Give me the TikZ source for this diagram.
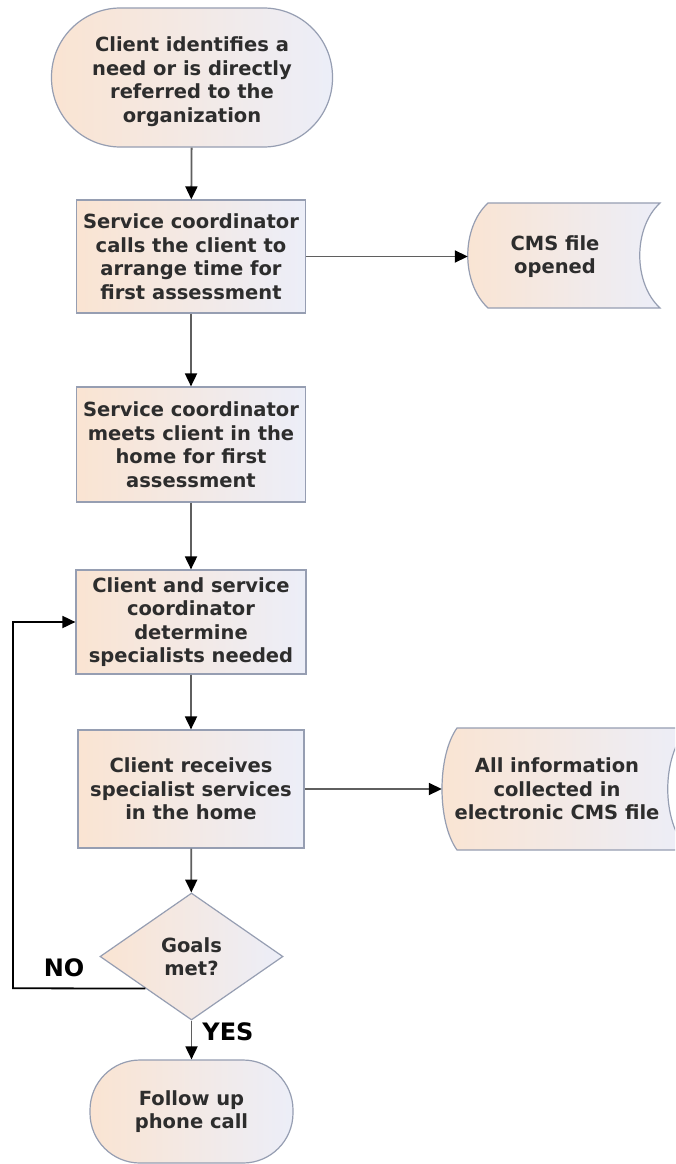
\documentclass[tikz,border=0pt]{standalone}
\usepackage{fontspec}
\setmainfont{DejaVu Sans}
\usetikzlibrary{shapes.geometric,arrows.meta}
\definecolor{peach}{RGB}{250,228,210}
\definecolor{lav}{RGB}{236,238,248}
\definecolor{edgec}{RGB}{150,158,178}
\definecolor{txt}{RGB}{45,45,45}
\definecolor{conn}{RGB}{95,95,95}
\begin{document}
\begin{tikzpicture}[x=1pt,y=-1pt,
  fillbox/.style={draw=edgec, line width=1.2pt, left color=peach, right color=lav},
  boxtext/.style={text=txt, font=\bfseries\fontsize{19.5}{23.5}\selectfont, align=center, inner sep=0pt},
  procbox/.style={fillbox, boxtext, rectangle},
  termbox/.style={fillbox, boxtext, rectangle, rounded corners=#1},
  decision/.style={fillbox, boxtext, diamond, minimum width=183pt, minimum height=127pt},
  doctext/.style={boxtext, minimum height=100pt},
  flow/.style={draw=conn, line width=1.8pt, -{Triangle[length=13pt,width=12pt,color=black]}},
  loopline/.style={draw=black, line width=1.8pt, -{Triangle[length=13pt,width=12pt,color=black]}},
  answer/.style={font=\bfseries\fontsize{24}{28}\selectfont, text=black, inner sep=0pt}
]
\useasboundingbox (0,0) rectangle (675,1164);
\clip (0,0) rectangle (675,1164);
\fill[white] (0,0) rectangle (675,1164);

% main column
\node[termbox=69pt, minimum width=281pt, minimum height=139pt] (start) at (192,77.5)
  {\rule{0pt}{23pt}Client identifies a\\need or is directly\\referred to the\\organization};
\node[procbox, minimum width=229pt, minimum height=113pt] (box1) at (191,256.5)
  {Service coordinator\\calls the client to\\arrange time for\\first assessment};
\node[procbox, minimum width=229pt, minimum height=115pt] (box2) at (191,444.5)
  {Service coordinator\\meets client in the\\home for first\\assessment};
\node[procbox, minimum width=230pt, minimum height=104pt] (box3) at (191,622)
  {Client and service\\coordinator\\determine\\specialists needed};
\node[procbox, minimum width=226pt, minimum height=118pt] (box4) at (191,789)
  {Client receives\\specialist services\\in the home};
\node[decision] (goals) at (191.5,956.5) {Goals\\met?};
\node[termbox=50pt, minimum width=203pt, minimum height=103pt] (follow) at (191.5,1111.5)
  {Follow up\\phone call};

% stored-data shapes
\path[fillbox] (488,203) -- (660,203) .. controls (633,228) and (633,283) .. (660,308)
  -- (488,308) .. controls (461,283) and (461,228) .. cycle;
\node[doctext, minimum width=174pt] (cms) at (555,256.5) {CMS file\\opened};

\path[fillbox] (457,728) -- (688,728) .. controls (661,756) and (661,822) .. (688,850)
  -- (457,850) .. controls (437,822) and (437,756) .. cycle;
\node[doctext, minimum width=230pt] (doc2) at (557,789) {All information\\collected in\\electronic CMS file};

% connectors
\draw[flow] (start) -- (box1);
\draw[flow] (box1) -- (box2);
\draw[flow] (box2) -- (box3);
\draw[flow] (box3) -- (box4);
\draw[flow] (box4) -- (goals);
\draw[flow] (goals) -- (follow);
\draw[flow] (box1.east) -- (cms.west);
\draw[flow] (box4.east) -- (doc2.west);
\coordinate (loopc) at (13,988.25);
\draw[loopline] (goals.south west) -- (loopc) |- (box3.west);

% labels
\node[answer] (no) at (64,968) {NO};
\node[answer] (yes) at (228,1032) {YES};
\end{tikzpicture}
\end{document}
